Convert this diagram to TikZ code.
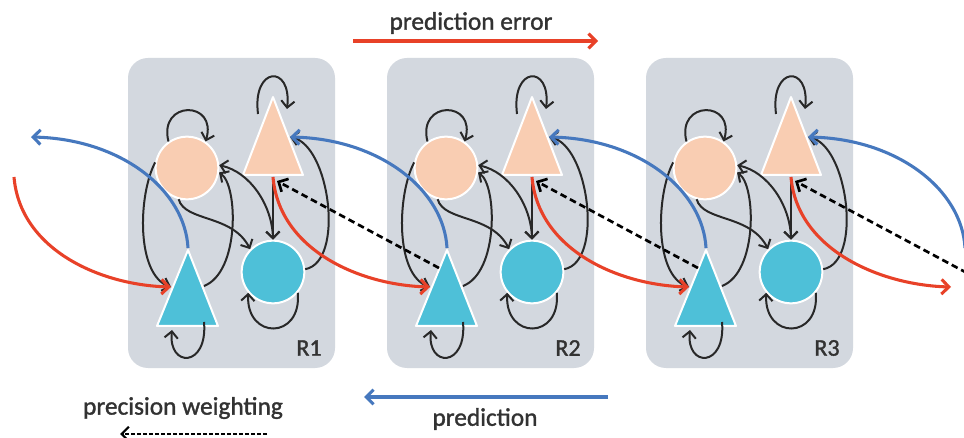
\documentclass[tikz,border=0pt]{standalone}
\usepackage{fontspec}
\setmainfont{Carlito}
\newfontfamily\lblfont[FakeBold=1.3]{Carlito}
\usetikzlibrary{arrows.meta}
\definecolor{peach}{RGB}{249,205,178}
\definecolor{cyanfill}{RGB}{78,192,216}
\definecolor{boxgray}{RGB}{211,216,223}
\definecolor{predred}{RGB}{232,65,40}
\definecolor{predblue}{RGB}{70,120,190}
\definecolor{linegray}{RGB}{40,40,40}
\definecolor{textgray}{RGB}{50,50,50}
\begin{document}
\begin{tikzpicture}[x=0.75pt,y=-0.75pt,
  regionbox/.style={fill=boxgray, rounded corners=15pt},
  pcirc/.style={circle, fill=peach, draw=white, line width=1.5pt, minimum size=47pt, inner sep=0pt},
  ccirc/.style={circle, fill=cyanfill, draw=white, line width=1.5pt, minimum size=47pt, inner sep=0pt},
  ptri/.style={fill=peach, draw=white, line width=1.5pt, line join=round},
  ctri/.style={fill=cyanfill, draw=white, line width=1.5pt, line join=round},
  blk/.style={draw=linegray, line width=1.5pt, -{Straight Barb[length=5pt,width=10pt]}},
  blkboth/.style={draw=linegray, line width=1.5pt, {Straight Barb[length=5pt,width=10pt]}-{Straight Barb[length=5pt,width=10pt]}},
  redarr/.style={draw=predred, line width=2.3pt, -{Straight Barb[length=5.5pt,width=11pt]}},
  bluearr/.style={draw=predblue, line width=2.3pt, -{Straight Barb[length=5.5pt,width=11pt]}},
  dasharr/.style={draw=black, line width=2pt, dash pattern=on 5pt off 3pt, -{Straight Barb[length=5.5pt,width=11pt]}},
  lbl/.style={font=\lblfont\fontsize{19}{22}\selectfont, text=textgray, inner sep=0pt},
  rlbl/.style={font=\lblfont\fontsize{18}{21}\selectfont, text=textgray, inner sep=0pt}]

\useasboundingbox (0,0) rectangle (964,438);
\clip (0,0) rectangle (964,438);
\fill[white] (0,0) rectangle (964,438);

% virtual end points of the chain, outside the three regions
\coordinate (ptin0) at (31,137);
\coordinate (ptout0) at (14,177);
\coordinate (cta4) at (965,248);
\coordinate (ctl4) at (951,287);
\coordinate (ctd4) at (967,273);

\foreach \i/\dx in {1/0,2/259,3/518}{
  \begin{scope}[shift={(\dx,0)}]
    \fill[regionbox] (128,58) rectangle (335,368);
    \node[rlbl] (rl\i) at (309,348) {R\i};
    \path[ptri] (273,97) -- (243,175) -- (303,175) -- cycle;
    \path[ctri] (188,250) -- (157,326) -- (218,326) -- cycle;
    \node[pcirc] (pc\i) at (187,168) {};
    \node[ccirc] (cc\i) at (273,272) {};
    % named points on the peach triangle
    \coordinate (pts\i) at (258,114);
    \coordinate (pte\i) at (287,109);
    \coordinate (ptin\i) at (290,137);
    \coordinate (ptout\i) at (273,177);
    \coordinate (ptd\i) at (277,181);
    % named points on the cyan triangle
    \coordinate (cta\i) at (188,248);
    \coordinate (ctl\i) at (171,287);
    \coordinate (ctr\i) at (204,286);
    \coordinate (ctd\i) at (180,268);
    \coordinate (cts\i) at (204,322);
    \coordinate (cte\i) at (172,330);
  \end{scope}
}

\foreach \i/\dx in {1/0,2/259,3/518}{
  \begin{scope}[shift={(\dx,0)}]
    \draw[blk] (pc\i.125) .. controls (158,100) and (218,100) .. (pc\i.55);
    \draw[blk] (pts\i) .. controls (252,66) and (292,64) .. (pte\i);
    \draw[blk] (cc\i.-40) .. controls (302,340) and (246,340) .. (cc\i.-140);
    \draw[blk] (cts\i) .. controls (208,368) and (168,368) .. (cte\i);
    \draw[blkboth] (pc\i.5) .. controls (250,172) and (272,205) .. (cc\i.north);
    \draw[blk] (ptout\i) -- (cc\i.north);
    \draw[blk] (cc\i.5) .. controls (345,262) and (330,145) .. (ptin\i);
    \draw[blk] (pc\i.170) .. controls (138,195) and (136,275) .. (ctl\i);
    \draw[blk] (ctr\i) .. controls (240,272) and (238,185) .. (pc\i.-8);
    \draw[blk] (pc\i.-105) .. controls (185,222) and (232,214) .. (cc\i.135);
  \end{scope}
}

% connectors between regions
\foreach \i/\j in {0/1,1/2,2/3,3/4}{
  \draw[redarr] (ptout\i) .. controls +(6,72) and +(-72,-2) .. (ctl\j);
  \draw[bluearr] (cta\j) .. controls +(-3,-58) and +(90,2) .. (ptin\i);
}
\foreach \i/\j in {1/2,2/3,3/4}{
  \draw[dasharr] (ctd\j) -- (ptd\i);
}

% legend
\node[lbl] (lpe) at (471,23) {prediction error};
\coordinate (pe0) at (353,41);
\coordinate (pe1) at (598,41);
\draw[redarr] (pe0) -- (pe1);
\node[lbl] (lpr) at (485,419) {prediction};
\coordinate (pr0) at (608,397);
\coordinate (pr1) at (364,397);
\draw[bluearr] (pr0) -- (pr1);
\node[lbl] (lpw) at (183,408) {precision weighting};
\coordinate (pw0) at (267,434);
\coordinate (pw1) at (120,434);
\draw[dasharr, line width=1.6pt, dash pattern=on 3pt off 1.5pt] (pw0) -- (pw1);
\end{tikzpicture}
\end{document}
